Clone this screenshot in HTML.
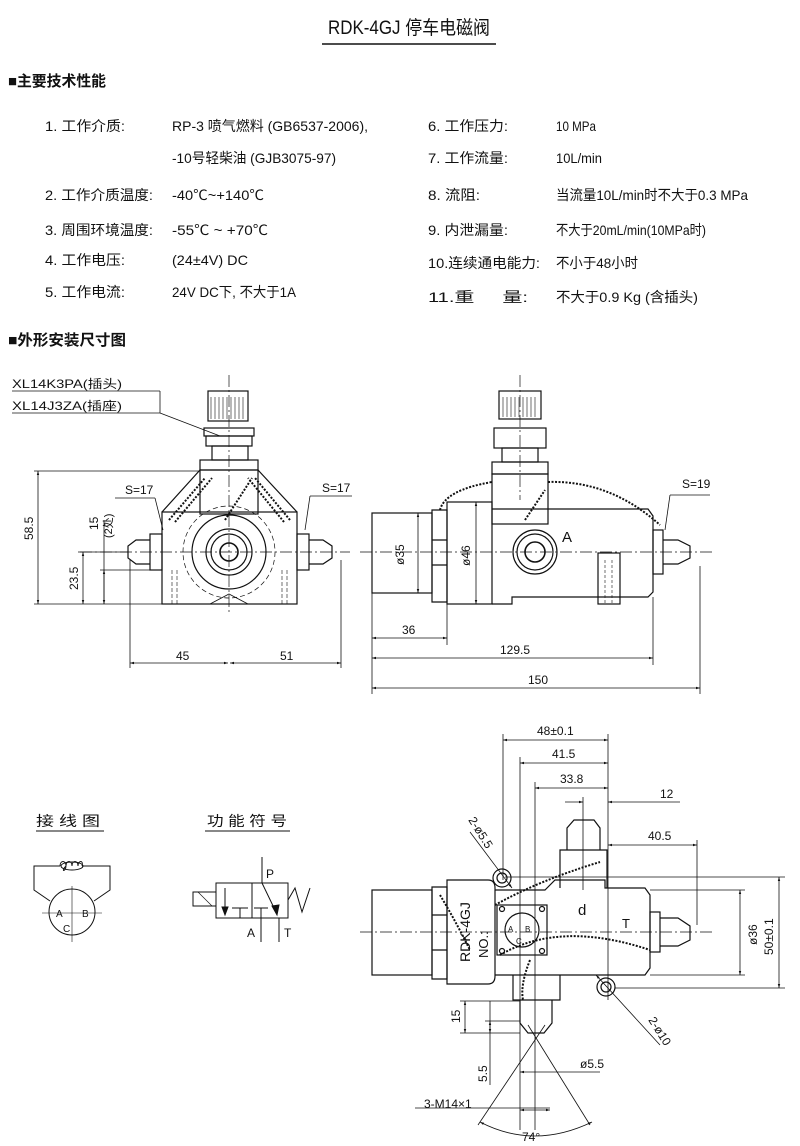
<!DOCTYPE html>
<html><head><meta charset="utf-8"><style>
html,body{margin:0;padding:0;background:#fff;}
svg{display:block;}
text{font-family:"Liberation Sans","Noto Sans CJK SC",sans-serif;fill:#111;}
.t{font-size:14px;}
.d{font-size:12px;}
</style></head><body>
<svg width="800" height="1146" viewBox="0 0 800 1146" xmlns="http://www.w3.org/2000/svg">
<defs>
<marker id="a" viewBox="0 0 10 10" refX="10" refY="5" markerWidth="7" markerHeight="5" orient="auto-start-reverse"><path d="M0,2 L10,5 L0,8 z" fill="#111"/></marker>
</defs>
<!-- title -->
<text x="328" y="34" font-size="19" textLength="162" lengthAdjust="spacingAndGlyphs">RDK-4GJ 停车电磁阀</text>
<line x1="322" y1="44" x2="496" y2="44" stroke="#111" stroke-width="1.5"/>
<text x="8" y="86" font-size="15" font-weight="bold" textLength="98" lengthAdjust="spacingAndGlyphs">■主要技术性能</text>
<g class="t">
<text x="45" y="131" textLength="80" lengthAdjust="spacingAndGlyphs">1. 工作介质:</text>
<text x="172" y="131" textLength="196" lengthAdjust="spacingAndGlyphs">RP-3 喷气燃料 (GB6537-2006),</text>
<text x="172" y="163" textLength="164" lengthAdjust="spacingAndGlyphs">-10号轻柴油 (GJB3075-97)</text>
<text x="45" y="200" textLength="108" lengthAdjust="spacingAndGlyphs">2. 工作介质温度:</text>
<text x="172" y="200" textLength="92" lengthAdjust="spacingAndGlyphs">-40℃~+140℃</text>
<text x="45" y="235" textLength="108" lengthAdjust="spacingAndGlyphs">3. 周围环境温度:</text>
<text x="172" y="235" textLength="96" lengthAdjust="spacingAndGlyphs">-55℃ ~ +70℃</text>
<text x="45" y="265" textLength="80" lengthAdjust="spacingAndGlyphs">4. 工作电压:</text>
<text x="172" y="265" textLength="76" lengthAdjust="spacingAndGlyphs">(24±4V) DC</text>
<text x="45" y="297" textLength="80" lengthAdjust="spacingAndGlyphs">5. 工作电流:</text>
<text x="172" y="297" textLength="124" lengthAdjust="spacingAndGlyphs">24V DC下, 不大于1A</text>
<text x="428" y="131" textLength="80" lengthAdjust="spacingAndGlyphs">6. 工作压力:</text>
<text x="556" y="131" textLength="40" lengthAdjust="spacingAndGlyphs">10 MPa</text>
<text x="428" y="163" textLength="80" lengthAdjust="spacingAndGlyphs">7. 工作流量:</text>
<text x="556" y="163" textLength="46" lengthAdjust="spacingAndGlyphs">10L/min</text>
<text x="428" y="200" textLength="52" lengthAdjust="spacingAndGlyphs">8. 流阻:</text>
<text x="556" y="200" textLength="192" lengthAdjust="spacingAndGlyphs">当流量10L/min时不大于0.3 MPa</text>
<text x="428" y="235" textLength="80" lengthAdjust="spacingAndGlyphs">9. 内泄漏量:</text>
<text x="556" y="235" textLength="150" lengthAdjust="spacingAndGlyphs">不大于20mL/min(10MPa时)</text>
<text x="428" y="268" textLength="112" lengthAdjust="spacingAndGlyphs">10.连续通电能力:</text>
<text x="556" y="268" textLength="82" lengthAdjust="spacingAndGlyphs">不小于48小时</text>
<text x="428" y="302" textLength="100" lengthAdjust="spacingAndGlyphs">11.重&#160;&#160;&#160;&#160;&#160;量:</text>
<text x="556" y="302" textLength="142" lengthAdjust="spacingAndGlyphs">不大于0.9 Kg (含插头)</text>
</g>
<text x="8" y="345" font-size="15" font-weight="bold" textLength="118" lengthAdjust="spacingAndGlyphs">■外形安装尺寸图</text>

<g stroke="#111" fill="none" stroke-width="1.2">
<!-- ===== View 1 ===== -->
<line x1="229" y1="375" x2="229" y2="615" stroke-dasharray="12,3,2,3" stroke-width=".7"/>
<line x1="80" y1="552" x2="350" y2="552" stroke-dasharray="12,3,2,3" stroke-width=".7"/>
<rect x="208" y="391" width="40" height="30"/>
<path d="M211,397 v22 M215,397 v22 M219,397 v22 M223,397 v22 M227,397 v22 M231,397 v22 M235,397 v22 M239,397 v22 M243,397 v22" stroke-width=".6"/>
<rect x="204" y="428" width="50" height="8"/>
<rect x="206" y="436" width="46" height="10"/>
<rect x="212" y="446" width="36" height="14"/>
<rect x="200" y="460" width="58" height="10"/>
<rect x="200" y="470" width="58" height="44"/>
<rect x="162" y="512" width="135" height="92"/>
<path d="M162,512 L200,470 M297,512 L258,470"/>
<circle cx="229" cy="552" r="46" stroke-dasharray="5,3" stroke-width=".7"/>
<circle cx="229" cy="552" r="37"/>
<circle cx="229" cy="552" r="23"/>
<circle cx="229" cy="552" r="18"/>
<circle cx="229" cy="552" r="9" stroke-width="1.6"/>
<rect x="150" y="534" width="12" height="36"/>
<path d="M150,540 L136,540 L128,546 L128,558 L136,564 L150,564"/>
<rect x="297" y="534" width="12" height="36"/>
<path d="M309,540 L323,540 L332,546 L332,558 L323,564 L309,564"/>
<path d="M169,520 L205,478 M175,522 L212,478 M290,520 L255,478 M284,522 L248,478 M225,520 L252,478" stroke-dasharray="2,1.5" stroke-width="2"/>
<path d="M172,570 v35 M177,570 v35 M282,570 v35 M287,570 v35" stroke-dasharray="4,2" stroke-width=".6"/>
<path d="M210,604 L229,594 L248,604" stroke-width=".8"/>
<!-- labels -->
<line x1="12" y1="391" x2="160" y2="391" stroke-width=".8"/>
<line x1="12" y1="413" x2="160" y2="413" stroke-width=".8"/>
<line x1="160" y1="391" x2="160" y2="413" stroke-width=".8"/>
<line x1="160" y1="413" x2="220" y2="436" stroke-width=".8"/>
<!-- dims view1 -->
<g stroke-width=".8">
<line x1="34" y1="471" x2="200" y2="471"/><line x1="34" y1="604" x2="162" y2="604"/>
<line x1="38" y1="471" x2="38" y2="604" marker-start="url(#a)" marker-end="url(#a)"/>
<line x1="78" y1="552" x2="128" y2="552"/>
<line x1="83" y1="552" x2="83" y2="604" marker-start="url(#a)" marker-end="url(#a)"/>
<line x1="100" y1="570" x2="150" y2="570"/>
<line x1="104" y1="520" x2="104" y2="604" />
<line x1="104" y1="570" x2="104" y2="604" marker-start="url(#a)" marker-end="url(#a)"/>
<line x1="130" y1="560" x2="130" y2="668"/><line x1="341" y1="560" x2="341" y2="668"/>
<line x1="130" y1="663" x2="228" y2="663" marker-start="url(#a)" marker-end="url(#a)"/>
<line x1="230" y1="663" x2="341" y2="663" marker-start="url(#a)" marker-end="url(#a)"/>
<line x1="115" y1="498" x2="155" y2="498"/><line x1="155" y1="498" x2="163" y2="530"/>
<line x1="310" y1="496" x2="352" y2="496"/><line x1="310" y1="496" x2="305" y2="530"/>
</g>
</g>
<g class="d">
<text x="12" y="388" textLength="110" lengthAdjust="spacingAndGlyphs">XL14K3PA(插头)</text>
<text x="12" y="410" textLength="110" lengthAdjust="spacingAndGlyphs">XL14J3ZA(插座)</text>
<text x="125" y="494">S=17</text>
<text x="322" y="492">S=17</text>
<text x="176" y="660">45</text><text x="280" y="660">51</text>
<text transform="translate(33,540) rotate(-90)">58.5</text>
<text transform="translate(78,590) rotate(-90)">23.5</text>
<text transform="translate(98,530) rotate(-90)">15</text>
<text transform="translate(112,538) rotate(-90)" font-size="11">(2处)</text>
</g>

<g stroke="#111" fill="none" stroke-width="1.2">
<!-- ===== View 2 ===== -->
<line x1="360" y1="552" x2="715" y2="552" stroke-dasharray="12,3,2,3" stroke-width=".7"/>
<line x1="520" y1="375" x2="520" y2="500" stroke-dasharray="12,3,2,3" stroke-width=".7"/>
<rect x="499" y="391" width="42" height="28"/>
<path d="M503,397 v20 M507,397 v20 M511,397 v20 M515,397 v20 M519,397 v20 M523,397 v20 M527,397 v20 M531,397 v20 M535,397 v20" stroke-width=".6"/>
<rect x="494" y="428" width="52" height="20"/>
<rect x="502" y="448" width="36" height="14"/>
<rect x="492" y="462" width="56" height="12"/>
<rect x="492" y="474" width="56" height="50"/>
<rect x="372" y="513" width="60" height="80"/>
<path d="M432,510 h15 v92 h-15 z M432,540 h15 M432,565 h15"/>
<rect x="447" y="502" width="45" height="102"/>
<path d="M492,509 H648 L653,516 V592 L648,597 H512 V604 H492 M548,509"/>
<circle cx="535" cy="552" r="22"/><circle cx="535" cy="552" r="18"/><circle cx="535" cy="552" r="10" stroke-width="1.6"/>
<rect x="598" y="553" width="22" height="51"/>
<path d="M605,560 v44 M612,560 v44" stroke-dasharray="3,2" stroke-width=".6"/>
<rect x="653" y="530" width="10" height="44"/>
<path d="M663,540 L678,540 L690,546 L690,558 L678,564 L663,564"/>
<path d="M440,510 Q445,490 492,482 M548,482 Q610,480 660,525 M525,520 L545,490" stroke-dasharray="2,1.5" stroke-width="2"/>
<g stroke-width=".8">
<line x1="418" y1="513" x2="418" y2="593" marker-start="url(#a)" marker-end="url(#a)"/>
<line x1="476" y1="502" x2="476" y2="604" marker-start="url(#a)" marker-end="url(#a)"/>
<line x1="372" y1="593" x2="372" y2="694"/><line x1="447" y1="604" x2="447" y2="645"/>
<line x1="653" y1="597" x2="653" y2="665"/><line x1="700" y1="566" x2="700" y2="694"/>
<line x1="372" y1="638" x2="447" y2="638" marker-start="url(#a)" marker-end="url(#a)"/>
<line x1="372" y1="658" x2="653" y2="658" marker-start="url(#a)" marker-end="url(#a)"/>
<line x1="372" y1="688" x2="700" y2="688" marker-start="url(#a)" marker-end="url(#a)"/>
<line x1="670" y1="495" x2="710" y2="495"/><line x1="670" y1="495" x2="665" y2="530"/>
</g>
</g>
<g class="d">
<text x="402" y="634">36</text><text x="500" y="654">129.5</text><text x="528" y="684">150</text>
<text x="682" y="488">S=19</text>
<text x="562" y="542" font-size="15">A</text>
<text transform="translate(404,565) rotate(-90)">ø35</text>
<text transform="translate(470,566) rotate(-90)">ø46</text>
</g>

<!-- ===== bottom left ===== -->
<g class="t">
<text x="36" y="826" textLength="64" lengthAdjust="spacingAndGlyphs">接 线 图</text>
<text x="207" y="826" textLength="80" lengthAdjust="spacingAndGlyphs">功 能 符 号</text>
</g>
<g stroke="#111" fill="none" stroke-width="1">
<line x1="36" y1="831" x2="104" y2="831"/><line x1="205" y1="831" x2="290" y2="831"/>
<path d="M50,901 L34,890 V866 H60 M82,866 H110 V890 L94,901"/>
<path d="M60,866 c0,-6 6,-6 6,0 c0,6 -6,6 0,0 M66,866 c0,-6 6,-6 6,0 M72,866 c0,-6 6,-6 6,0 M78,866 c0,-6 6,-6 4,0" stroke-width=".9"/>
<ellipse cx="72" cy="866" rx="11" ry="4"/>
<circle cx="72" cy="912" r="23"/>
<line x1="42" y1="913" x2="102" y2="913" stroke-width=".6"/>
<line x1="72" y1="886" x2="72" y2="942" stroke-width=".6"/>
<rect x="216" y="883" width="72" height="35"/>
<line x1="252" y1="883" x2="252" y2="918"/>
<rect x="193" y="892" width="23" height="14"/>
<line x1="198" y1="892" x2="212" y2="906" stroke-width=".6"/>
<path d="M288,900 L295,888 L302,912 L310,888"/>
<line x1="262" y1="857" x2="262" y2="883"/>
<line x1="262" y1="883" x2="276" y2="912"/>
<path d="M272,906 L277,915 L279,905 z" fill="#111"/>
<line x1="261" y1="918" x2="261" y2="942"/><line x1="279" y1="918" x2="279" y2="942"/>
<line x1="225" y1="888" x2="225" y2="915"/><path d="M222,907 L225,915 L228,907 z" fill="#111"/>
<path d="M232,908 h16 M240,908 v10 M254,908 h14 M261,908 v10"/>
</g>
<g class="d">
<text x="56" y="917" font-size="10">A</text><text x="82" y="917" font-size="10">B</text><text x="63" y="932" font-size="10">C</text>
<text x="266" y="878">P</text><text x="247" y="937">A</text><text x="284" y="937">T</text>
</g>

<!-- ===== View 3 ===== -->
<g stroke="#111" fill="none" stroke-width="1.2">
<line x1="360" y1="932" x2="712" y2="932" stroke-dasharray="12,3,2,3" stroke-width=".7"/>
<rect x="372" y="890" width="60" height="85"/>
<path d="M432,887 h15 v92 h-15 z M432,915 h15 M432,950 h15"/>
<path d="M447,880 H488 Q495,880 495,888 V976 Q495,984 488,984 H447 Z"/>
<path d="M495,890 H545 L555,880 H605 V888 H645 L650,895 V968 L645,975 H605 L555,975 H495"/>
<path d="M560,888 V850 H607 V888"/>
<path d="M567,850 V828 L574,820 H594 L600,828 V850"/>
<path d="M513,975 V1000 H560 V975"/>
<path d="M520,1000 V1023 L528,1033 H544 L552,1023 V1000"/>
<rect x="650" y="912" width="10" height="40"/>
<path d="M660,918 H678 L690,926 V940 L678,946 H660"/>
<rect x="497" y="905" width="50" height="50"/>
<circle cx="522" cy="930" r="17"/>
<circle cx="502" cy="909" r="2.5"/><circle cx="542" cy="909" r="2.5"/><circle cx="502" cy="951" r="2.5"/><circle cx="542" cy="951" r="2.5"/>
<circle cx="502" cy="878" r="9"/><circle cx="502" cy="878" r="5"/>
<circle cx="606" cy="987" r="9"/><circle cx="606" cy="987" r="5"/>
<path d="M495,905 Q540,880 600,862 M500,955 Q560,920 650,950 M530,960 Q520,985 523,1000 M440,895 Q455,920 470,950" stroke-dasharray="2,1.5" stroke-width="2"/>
<g stroke-width=".8">
<line x1="503" y1="734" x2="503" y2="880"/>
<line x1="520" y1="757" x2="520" y2="1130"/>
<line x1="535" y1="782" x2="535" y2="1130"/>
<line x1="608" y1="734" x2="608" y2="1000"/>
<line x1="697" y1="840" x2="697" y2="925"/>
<line x1="503" y1="740" x2="608" y2="740" marker-start="url(#a)" marker-end="url(#a)"/>
<line x1="520" y1="763" x2="608" y2="763" marker-start="url(#a)" marker-end="url(#a)"/>
<line x1="535" y1="788" x2="608" y2="788" marker-start="url(#a)" marker-end="url(#a)"/>
<line x1="565" y1="802" x2="583" y2="802" marker-end="url(#a)"/>
<line x1="583" y1="797" x2="583" y2="890"/>
<line x1="680" y1="802" x2="608" y2="802" marker-end="url(#a)"/>
<line x1="608" y1="845" x2="697" y2="845" marker-start="url(#a)" marker-end="url(#a)"/>
<line x1="650" y1="890" x2="745" y2="890"/><line x1="650" y1="975" x2="745" y2="975"/>
<line x1="740" y1="890" x2="740" y2="975" marker-start="url(#a)" marker-end="url(#a)"/>
<line x1="505" y1="877" x2="785" y2="877"/><line x1="615" y1="988" x2="785" y2="988"/>
<line x1="779" y1="877" x2="779" y2="988" marker-start="url(#a)" marker-end="url(#a)"/>
<line x1="460" y1="1001" x2="520" y2="1001"/><line x1="460" y1="1033" x2="520" y2="1033"/>
<line x1="465" y1="1001" x2="465" y2="1033" marker-start="url(#a)" marker-end="url(#a)"/>
<line x1="485" y1="1021" x2="520" y2="1021"/>
<line x1="490" y1="1001" x2="490" y2="1085"/>
<line x1="490" y1="1021" x2="490" y2="1033" marker-start="url(#a)" marker-end="url(#a)"/>
<line x1="520" y1="1072" x2="600" y2="1072" marker-start="url(#a)"/>
<line x1="415" y1="1108" x2="550" y2="1108"/>
<line x1="520" y1="1110" x2="550" y2="1110" marker-start="url(#a)" marker-end="url(#a)"/>
<line x1="478" y1="1125" x2="545" y2="1025"/><line x1="590" y1="1125" x2="528" y2="1025"/>
<path d="M480,1122 Q534,1150 592,1122" marker-start="url(#a)" marker-end="url(#a)"/>
<line x1="470" y1="832" x2="512" y2="888" marker-end="url(#a)"/>
<line x1="660" y1="1045" x2="596" y2="975" marker-end="url(#a)"/>
</g>
</g>
<g class="d">
<text x="537" y="735">48±0.1</text>
<text x="552" y="758">41.5</text>
<text x="560" y="783">33.8</text>
<text x="660" y="798">12</text>
<text x="648" y="840">40.5</text>
<text x="424" y="1108">3-M14×1</text>
<text x="580" y="1068">ø5.5</text>
<text x="522" y="1141">74°</text>
<text x="578" y="915" font-size="15">d</text>
<text x="622" y="928" font-size="13">T</text>
<text transform="translate(757,945) rotate(-90)">ø36</text>
<text transform="translate(773,955) rotate(-90)">50±0.1</text>
<text transform="translate(460,1023) rotate(-90)">15</text>
<text transform="translate(487,1082) rotate(-90)">5.5</text>
<text transform="translate(468,820) rotate(58)">2-ø5.5</text>
<text transform="translate(648,1020) rotate(58)">2-ø10</text>
<text transform="translate(470,962) rotate(-90)" font-size="14">RDK-4GJ</text>
<text transform="translate(488,958) rotate(-90)" font-size="13">NO.:</text>
<text x="508" y="932" font-size="8">A</text><text x="525" y="932" font-size="8">B</text><text x="516" y="944" font-size="8">C</text>
</g>
</svg>
</body></html>
